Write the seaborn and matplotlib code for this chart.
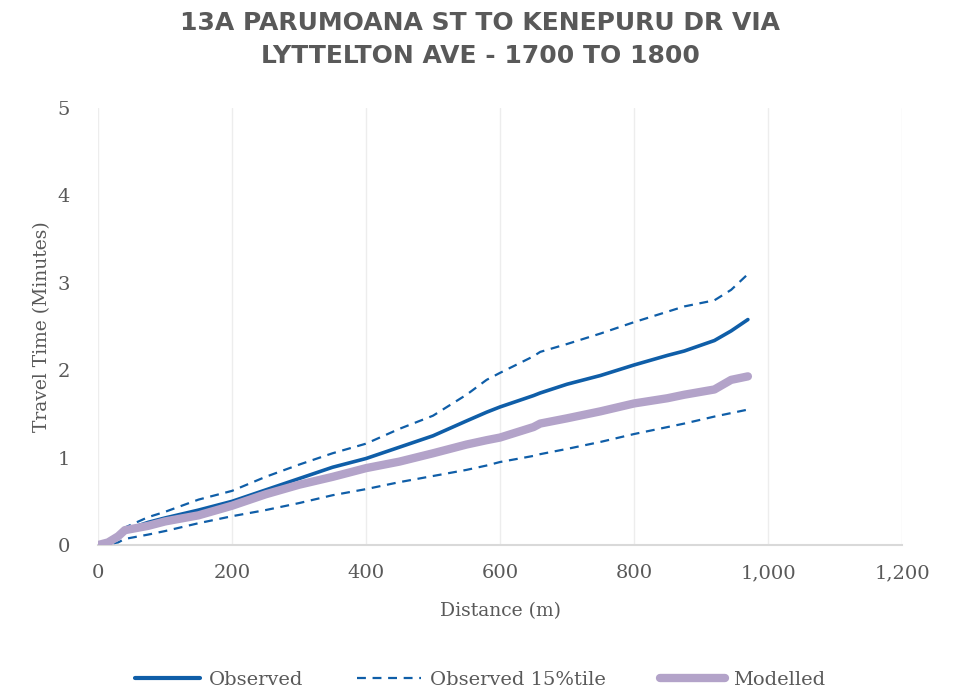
import matplotlib
matplotlib.use("Agg")
import matplotlib.pyplot as plt
import seaborn as sns
import pandas as pd
from matplotlib.lines import Line2D

# ---- data ----
distance_m = [0, 15, 30, 40, 75, 100, 150, 200, 250, 300, 350, 400, 450, 500,
              550, 580, 600, 650, 660, 700, 750, 800, 850, 875, 920, 945, 970]
observed = [0, 0.02, 0.10, 0.17, 0.26, 0.31, 0.40, 0.50, 0.63, 0.76, 0.89, 0.99,
            1.12, 1.25, 1.42, 1.52, 1.58, 1.71, 1.74, 1.84, 1.94, 2.06, 2.17,
            2.22, 2.34, 2.45, 2.58]
observed_15 = [0, 0.02, 0.10, 0.20, 0.32, 0.38, 0.52, 0.62, 0.78, 0.92, 1.05,
               1.16, 1.33, 1.48, 1.72, 1.89, 1.97, 2.16, 2.21, 2.30, 2.42, 2.55,
               2.67, 2.73, 2.80, 2.92, 3.10]
observed_15_low = [0, 0.01, 0.03, 0.07, 0.12, 0.16, 0.25, 0.33, 0.40, 0.48, 0.57,
                   0.64, 0.72, 0.79, 0.86, 0.91, 0.95, 1.02, 1.04, 1.10, 1.18,
                   1.27, 1.35, 1.39, 1.47, 1.51, 1.55]
modelled = [0, 0.03, 0.10, 0.17, 0.22, 0.27, 0.34, 0.45, 0.58, 0.69, 0.78, 0.88,
            0.955, 1.05, 1.15, 1.20, 1.23, 1.35, 1.39, 1.45, 1.53, 1.62, 1.68,
            1.72, 1.78, 1.89, 1.93]

title = "13A PARUMOANA ST TO KENEPURU DR VIA\nLYTTELTON AVE - 1700 TO 1800"
x_label = "Distance (m)"
y_label = "Travel Time (Minutes)"
legend_labels = ["Observed", "Observed 15%tile", "Modelled"]
x_ticks = [0, 200, 400, 600, 800, 1000, 1200]
y_ticks = [0, 1, 2, 3, 4, 5]

BLUE = "#0F5EA8"
PURPLE = "#B3A3C9"
GREY = "#595959"

sns.set_theme(style="white")
plt.rcParams["font.family"] = ["DejaVu Serif"]

fig = plt.figure(figsize=(9.61, 6.97), dpi=100)
ax = fig.add_axes([0.102, 0.218, 0.8366, 0.627])

df = pd.DataFrame({"d": distance_m, "obs": observed, "hi": observed_15,
                   "lo": observed_15_low, "mod": modelled})

sns.lineplot(data=df, x="d", y="obs", ax=ax, color=BLUE, lw=2.6,
             solid_capstyle="round", zorder=3)
sns.lineplot(data=df, x="d", y="hi", ax=ax, color=BLUE, lw=1.6,
             linestyle=(0, (4, 3)), zorder=3)
sns.lineplot(data=df, x="d", y="lo", ax=ax, color=BLUE, lw=1.6,
             linestyle=(0, (4, 3)), zorder=3)
sns.lineplot(data=df, x="d", y="mod", ax=ax, color=PURPLE, lw=6,
             solid_capstyle="round", zorder=4)

ax.set_xlim(0, 1200)
ax.set_ylim(0, 5)
ax.set_xticks(x_ticks)
ax.set_xticklabels([f"{v:,}" for v in x_ticks])
ax.set_yticks(y_ticks)
ax.set_yticklabels([str(v) for v in y_ticks])
ax.tick_params(axis="both", length=0, labelsize=14, labelcolor=GREY)
ax.tick_params(axis="x", pad=14)
ax.tick_params(axis="y", pad=20)

ax.grid(axis="x", color="#EDEDED", lw=1)
ax.grid(axis="y", visible=False)
for s in ["top", "right", "left"]:
    ax.spines[s].set_visible(False)
ax.spines["bottom"].set_color("#D9D9D9")
ax.spines["bottom"].set_linewidth(1.5)
ax.set_axisbelow(True)

ax.set_xlabel(x_label, fontsize=13.5, color=GREY, labelpad=14)
ax.set_ylabel(y_label, fontsize=13.5, color=GREY, labelpad=5)

fig.text(0.5, 0.943, title, ha="center", va="center", fontsize=18,
         fontweight="bold", color=GREY, family=["DejaVu Sans"],
         linespacing=1.45)

handles = [Line2D([], [], color=BLUE, lw=3, solid_capstyle="round"),
           Line2D([], [], color=BLUE, lw=1.6, linestyle=(0, (4, 3))),
           Line2D([], [], color=PURPLE, lw=6, solid_capstyle="round")]
fig.legend(handles, legend_labels, loc="center", bbox_to_anchor=(0.5, 0.025),
           ncol=3, frameon=False, fontsize=14, handlelength=3.3,
           handletextpad=0.45, columnspacing=2.8, labelcolor=GREY)

fig.savefig("out.png", dpi=100)
